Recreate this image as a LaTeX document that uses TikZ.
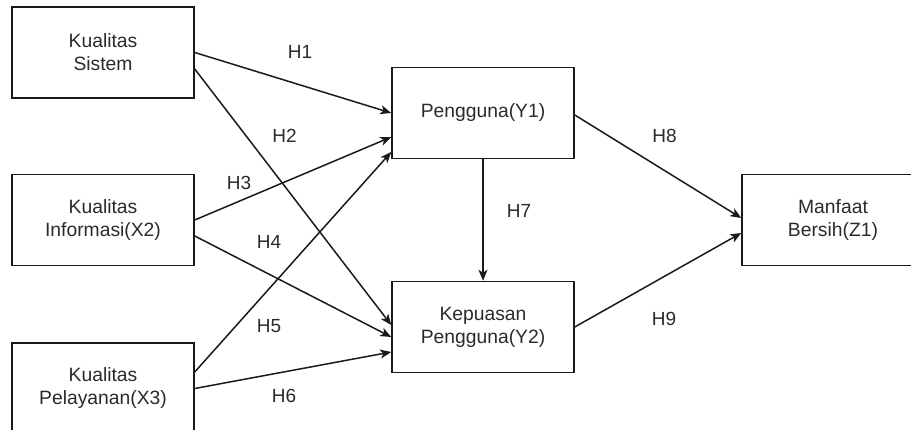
\documentclass[tikz,border=0pt]{standalone}
\usepackage{fontspec}
\setmainfont{Liberation Sans}
\usetikzlibrary{arrows.meta,calc}
\definecolor{txt}{HTML}{2a2a2a}
\definecolor{ln}{HTML}{1a1a1a}
\begin{document}
\begin{tikzpicture}[x=1pt,y=-1pt,
  box/.style={draw=ln,line width=1.5pt,rectangle,minimum width=182pt,minimum height=91pt,
    align=center,text=txt,font=\fontsize{19.3}{23}\selectfont,inner sep=0pt},
  hlab/.style={text=txt,font=\fontsize{19}{22}\selectfont,inner sep=0pt},
  arr/.style={draw=ln,line width=1.5pt,-{Stealth[length=11pt,width=9pt,inset=3pt]}}]
\useasboundingbox (0,0) rectangle (911,430);
\clip (0,0) rectangle (911,430);
\node[box] (A) at (103,52.5) {Kualitas\\Sistem};
\node[box] (B) at (103,220) {Kualitas\\Informasi(X2)};
\node[box] (C) at (103,388.5) {Kualitas\\Pelayanan(X3)};
\node[box] (Y1) at (483,113) {Pengguna(Y1)};
\node[box] (Y2) at (483,327) {Kepuasan\\Pengguna(Y2)};
\node[box] (Z1) at (833,220) {Manfaat\\Bersih(Z1)};
\draw[arr] (A.east) -- (Y1.west);
\draw[arr] ($(A.east)+(0,16.5)$) -- ($(Y2.west)+(0,-2)$);
\draw[arr] (B.east) -- ($(Y1.west)+(0,24)$);
\draw[arr] ($(B.east)+(0,16)$) -- ($(Y2.west)+(0,10)$);
\draw[arr] ($(C.east)+(0,-16.5)$) -- ($(Y1.west)+(0,39)$);
\draw[arr] (C.east) -- ($(Y2.west)+(0,25)$);
\draw[arr] (Y1.south) -- (Y2.north);
\draw[arr] ($(Y1.east)+(0,2)$) -- ($(Z1.west)+(0,-2)$);
\draw[arr] (Y2.east) -- ($(Z1.west)+(0,13)$);
\node[hlab] (h1) at (300,51.5) {H1};
\node[hlab] (h2) at (284.5,136) {H2};
\node[hlab] (h3) at (239,182.5) {H3};
\node[hlab] (h4) at (269,242) {H4};
\node[hlab] (h5) at (269,326) {H5};
\node[hlab] (h6) at (284,396) {H6};
\node[hlab] (h7) at (519,211) {H7};
\node[hlab] (h8) at (664.5,135.5) {H8};
\node[hlab] (h9) at (664,318.5) {H9};
\end{tikzpicture}
\end{document}
